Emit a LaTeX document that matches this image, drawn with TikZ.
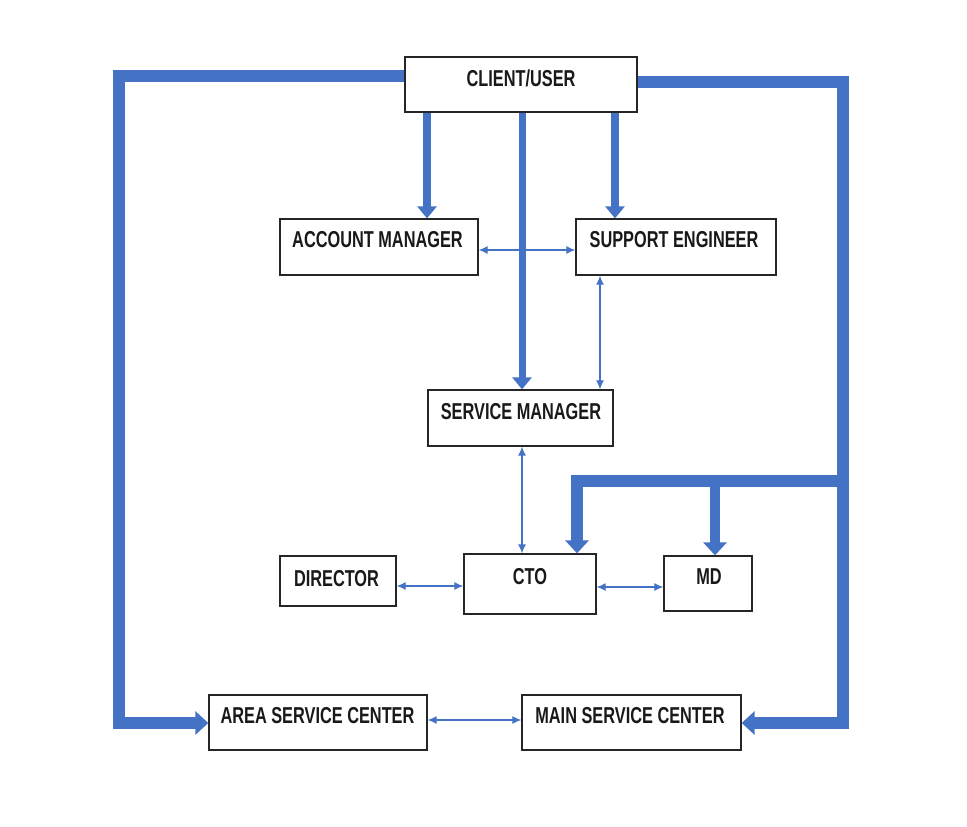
\documentclass[tikz,border=0pt]{standalone}
\usepackage{fontspec}
\newfontfamily\lblfont{Liberation Sans}[FakeStretch=0.71]
\usetikzlibrary{arrows.meta,calc}
\definecolor{flowblue}{RGB}{68,114,196}
\begin{document}
\begin{tikzpicture}[x=1pt,y=-1pt,
  box/.style={draw=black!85, line width=1.3pt, fill=white, inner sep=0pt},
  lbl/.style={font=\lblfont\bfseries\fontsize{23}{27}\selectfont, inner sep=0pt, text height=16.5pt, text depth=0pt, anchor=center, text=black!90},
  bigline/.style={draw=flowblue, line width=12pt, line join=miter},
  bigarrow/.style={bigline, -{Triangle[width=23pt,length=13pt]}},
  medarrow/.style={draw=flowblue, line width=8pt, -{Triangle[width=19pt,length=12pt]}},
  thinarrow/.style={draw=flowblue, line width=1.2pt, {Latex[length=9pt,width=8pt]}-{Latex[length=9pt,width=8pt]}}
]
\useasboundingbox (0,0) rectangle (967,827);

% boxes
\node[box, minimum width=232pt, minimum height=55pt] (cl) at (521,84.5) {};
\node[box, minimum width=198pt, minimum height=56pt] (am) at (379,247) {};
\node[box, minimum width=200pt, minimum height=56pt] (se) at (676,247) {};
\node[box, minimum width=185pt, minimum height=56pt] (sm) at (520.5,418) {};
\node[box, minimum width=116pt, minimum height=50pt] (dir) at (338,581) {};
\node[box, minimum width=132pt, minimum height=60pt] (cto) at (530,584) {};
\node[box, minimum width=88pt, minimum height=55pt] (md) at (708,583.5) {};
\node[box, minimum width=218pt, minimum height=55pt] (asc) at (318,722.5) {};
\node[box, minimum width=219pt, minimum height=55pt] (msc) at (631.5,722.5) {};

% labels
\node[lbl] (clt) at (521,78.5) {CLIENT/USER};
\node[lbl] (amt) at (377.5,239) {ACCOUNT MANAGER};
\node[lbl] (set) at (674,239) {SUPPORT ENGINEER};
\node[lbl] (smt) at (521,411) {SERVICE MANAGER};
\node[lbl] (dirt) at (336.5,578.5) {DIRECTOR};
\node[lbl] (ctot) at (530,576.5) {CTO};
\node[lbl] (mdt) at (709,576.5) {MD};
\node[lbl] (asct) at (317.5,715) {AREA SERVICE CENTER};
\node[lbl] (msct) at (630,715.5) {MAIN SERVICE CENTER};

% helper coordinates
\coordinate (tl) at (119,76);
\coordinate (bl) at (119,723);
\coordinate (tr) at (843,82);
\coordinate (br) at (843,723);
\coordinate (bj) at (843,481);
\coordinate (bc) at (577,481);
\coordinate (bm) at (715,481);
\coordinate (x1) at (427,0);
\coordinate (x2) at (522,0);
\coordinate (x3) at (615,0);
\coordinate (x4) at (600,0);
\coordinate (y1) at (0,250);
\coordinate (y2) at (0,586);
\coordinate (y3) at (0,587);
\coordinate (y4) at (0,720);

% thick loops
\draw[bigarrow] (cl.west |- tl) -- (tl) -- (bl) -- (asc.west |- bl);
\draw[bigarrow] (cl.east |- tr) -- (tr) -- (br) -- (msc.east |- br);
\draw[bigarrow] (bj) -- (bc) -- (cto.north -| bc);
\draw[bigarrow, line width=10pt] (bm) -- (md.north -| bm);

% client down arrows
\draw[medarrow] (cl.south -| x1) -- (am.north -| x1);
\draw[medarrow, line width=7pt] (cl.south -| x2) -- (sm.north -| x2);
\draw[medarrow] (cl.south -| x3) -- (se.north -| x3);

% thin two-way arrows
\draw[thinarrow] (am.east |- y1) -- (se.west |- y1);
\draw[thinarrow] (se.south -| x4) -- (sm.north -| x4);
\draw[thinarrow] (sm.south -| x2) -- (cto.north -| x2);
\draw[thinarrow] (dir.east |- y2) -- (cto.west |- y2);
\draw[thinarrow] (cto.east |- y3) -- (md.west |- y3);
\draw[thinarrow] (asc.east |- y4) -- (msc.west |- y4);
\end{tikzpicture}
\end{document}
